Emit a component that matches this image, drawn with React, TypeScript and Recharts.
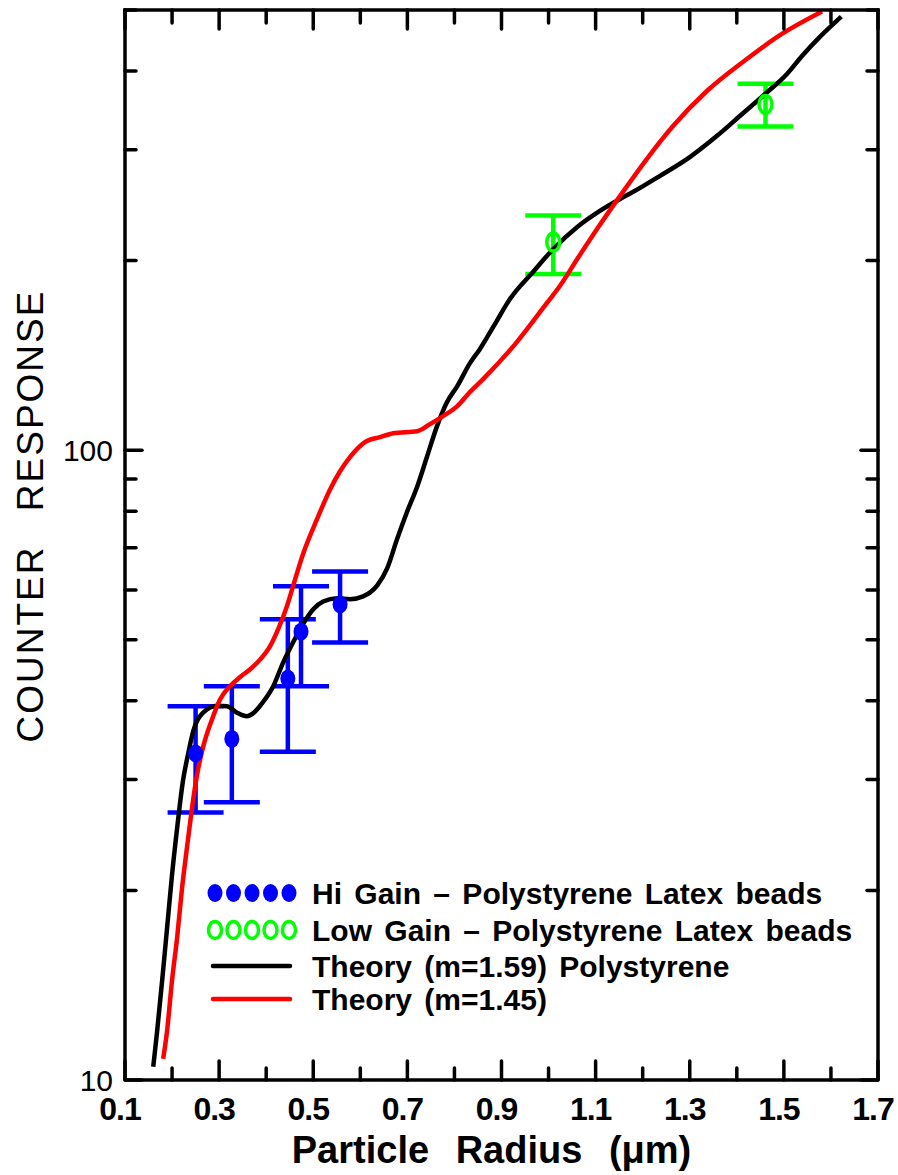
import React from "react";
import { ComposedChart, Line, Scatter, ErrorBar, XAxis, YAxis, Legend } from "recharts";

// axis ticks
const xTicks = [0.1, 0.2, 0.3, 0.4, 0.5, 0.6, 0.7, 0.8, 0.9, 1.0, 1.1, 1.2, 1.3, 1.4, 1.5, 1.6, 1.7];
const xTickLabels = ["0.1", "0.3", "0.5", "0.7", "0.9", "1.1", "1.3", "1.5", "1.7"];
const yTicks = [10, 20, 30, 40, 50, 60, 70, 80, 90, 100, 200, 300, 400, 500];
const yTickLabels = ["10", "100"];

// Hi gain measurements (filled blue)
const hiGainRadius = [0.25, 0.327, 0.446, 0.474, 0.557];
const hiGainResponse = [33.0, 34.8, 43.4, 51.5, 56.9];
const hiGainLow = [26.6, 27.6, 33.2, 42.2, 49.5];
const hiGainHigh = [39.2, 42.2, 53.9, 60.8, 64.2];

// Low gain measurements (open green)
const lowGainRadius = [1.01, 1.461];
const lowGainResponse = [214, 354];
const lowGainLow = [190.5, 326.6];
const lowGainHigh = [235.8, 381.9];

// Mie theory, m = 1.59
const theory159Radius = [
  0.16, 0.168, 0.179, 0.189, 0.2, 0.211, 0.223, 0.234, 0.245, 0.266, 0.296, 0.317, 0.338, 0.359,
  0.372, 0.393, 0.415, 0.436, 0.457, 0.478, 0.5, 0.521, 0.551, 0.578, 0.606, 0.636, 0.657, 0.678,
  0.699, 0.721, 0.742, 0.763, 0.784, 0.806, 0.833, 0.854, 0.886, 0.918, 0.967, 1.01, 1.061, 1.109,
  1.152, 1.18, 1.237, 1.301, 1.358, 1.407, 1.456, 1.507, 1.539, 1.577, 1.622,
];
const theory159Response = [
  10.5, 11.9, 14.4, 17.3, 21.2, 25.2, 29.8, 32.9, 35.8, 38.3, 39.3, 39.2, 38.3, 37.8, 38.2, 39.8,
  42.2, 46.0, 49.5, 52.9, 55.9, 57.5, 58.2, 58.0, 58.6, 61.0, 64.9, 72.2, 79.7, 87.6, 97.8, 109.2,
  119.2, 126.4, 137.5, 144.7, 158.6, 173.8, 191.9, 208.7, 226.2, 239.9, 250.6, 257.2, 272.7, 292.3,
  315.6, 339.6, 365.5, 396.1, 423.0, 453.6, 488.1,
];

// Mie theory, m = 1.45
const theory145Radius = [
  0.181, 0.189, 0.2, 0.211, 0.221, 0.232, 0.242, 0.253, 0.266, 0.285, 0.302, 0.323, 0.344, 0.366,
  0.387, 0.408, 0.425, 0.444, 0.457, 0.478, 0.508, 0.536, 0.557, 0.578, 0.61, 0.642, 0.67, 0.721,
  0.748, 0.776, 0.806, 0.833, 0.861, 0.929, 0.997, 1.024, 1.061, 1.103, 1.152, 1.209, 1.265, 1.337,
  1.422, 1.49, 1.581,
];
const theory145Response = [
  10.8, 11.9, 14.4, 16.9, 20.1, 23.5, 26.9, 30.5, 33.8, 37.4, 40.2, 42.2, 43.6, 44.9, 46.5, 48.8,
  51.9, 56.5, 60.8, 68.3, 77.7, 86.7, 92.6, 97.5, 103.0, 104.9, 106.4, 107.2, 110.0, 113.3, 117.5,
  123.7, 129.7, 147.4, 171.5, 182.3, 201.2, 224.5, 253.4, 290.2, 327.4, 372.2, 418.4, 455.2, 497.1,
];

const curve = (xs: number[], ys: number[]) => xs.map((x, i) => ({ x, y: ys[i] }));
const points = (xs: number[], ys: number[], lo: number[], hi: number[]) =>
  xs.map((x, i) => ({ x, y: ys[i], err: [ys[i] - lo[i], hi[i] - ys[i]] }));

const theory159 = curve(theory159Radius, theory159Response);
const theory145 = curve(theory145Radius, theory145Response);
const hiGain = points(hiGainRadius, hiGainResponse, hiGainLow, hiGainHigh);
const lowGain = points(lowGainRadius, lowGainResponse, lowGainLow, lowGainHigh);

const BLUE = "#0000ff";
const GREEN = "#00ff00";
const RED = "#ff0000";
const FONT = "'Liberation Sans', Arial, sans-serif";
const FRAME = 3.5;

// layout
const CHART_W = 898;
const CHART_H = 1175;
const MARGIN = { top: 10, right: 19, bottom: 0, left: 0 };
const X_AXIS_H = 95;
const Y_AXIS_W = 125;
const RIGHT_AXIS_W = 1;
const PLOT_LEFT = MARGIN.left + Y_AXIS_W;
const PLOT_W = CHART_W - MARGIN.left - MARGIN.right - Y_AXIS_W - RIGHT_AXIS_W;
const X_DOMAIN: [number, number] = [0.1, 1.7];

const isMajorX = (v: number) => xTickLabels.includes(v.toFixed(1));
const yLabel = (v: number) => yTickLabels.find((l) => Number(l) === v);

function BottomTick(props: any) {
  const { x, y, payload } = props;
  const major = isMajorX(payload.value);
  return (
    <g>
      <line x1={x} x2={x} y1={y} y2={y - (major ? 19 : 12)} stroke="#000" strokeWidth={FRAME} strokeLinecap="round" />
      {major && (
        <text x={x - 5} y={y + 40} textAnchor="middle" fontSize={32} fontWeight="bold" letterSpacing={-1} fontFamily={FONT} fill="#000">
          {payload.value.toFixed(1)}
        </text>
      )}
    </g>
  );
}

function LeftTick(props: any) {
  const { x, y, payload } = props;
  const label = yLabel(payload.value);
  return (
    <g>
      <line x1={x} x2={x + (label ? 17 : 11)} y1={y} y2={y} stroke="#000" strokeWidth={FRAME} strokeLinecap="round" />
      {label && (
        <text x={x - 12} y={y + 11} textAnchor="end" fontSize={30} fontFamily={FONT} fill="#000">
          {label}
        </text>
      )}
    </g>
  );
}

function RightTick(props: any) {
  const { x, y, payload } = props;
  const major = !!yLabel(payload.value);
  return <line x1={x} x2={x - (major ? 17 : 11)} y1={y} y2={y} stroke="#000" strokeWidth={FRAME} strokeLinecap="round" />;
}

function XTitle(props: any) {
  const vb = props.viewBox || { x: 125, y: 1080, width: 753, height: 95 };
  return (
    <text
      x={vb.x + vb.width / 2 - 10}
      y={vb.y + 83}
      textAnchor="middle"
      fontSize={38}
      fontWeight="bold"
      fontFamily={FONT}
      style={{ wordSpacing: 16 }}
      fill="#000"
    >
      Particle Radius (μm)
    </text>
  );
}

function YTitle(props: any) {
  const vb = props.viewBox || { x: 0, y: 10, width: 125, height: 1070 };
  const cx = vb.x + 30;
  const cy = vb.y + vb.height / 2 - 29;
  return (
    <text
      x={cx}
      y={cy}
      transform={`rotate(-90 ${cx} ${cy})`}
      textAnchor="middle"
      dominantBaseline="central"
      fontSize={37}
      letterSpacing={2}
      fontFamily={FONT}
      style={{ wordSpacing: 22 }}
      fill="#000"
    >
      COUNTER RESPONSE
    </text>
  );
}

// top edge of the box with its downward ticks
function TopFrame() {
  const px = (v: number) => PLOT_LEFT + ((v - X_DOMAIN[0]) / (X_DOMAIN[1] - X_DOMAIN[0])) * PLOT_W;
  const top = MARGIN.top;
  return (
    <svg
      width={CHART_W}
      height={40}
      style={{ position: "absolute", left: 0, top: 0, pointerEvents: "none", zIndex: 5 }}
    >
      <line x1={PLOT_LEFT} x2={PLOT_LEFT + PLOT_W} y1={top} y2={top} stroke="#000" strokeWidth={FRAME} strokeLinecap="square" />
      {xTicks.map((v) => (
        <line
          key={v}
          x1={px(v)}
          x2={px(v)}
          y1={top}
          y2={top + (isMajorX(v) ? 19 : 13)}
          stroke="#000"
          strokeWidth={FRAME}
          strokeLinecap="round"
        />
      ))}
    </svg>
  );
}

const FilledDot = (props: any) => <ellipse cx={props.cx} cy={props.cy} rx={7.5} ry={9} fill={BLUE} />;
const OpenDot = (props: any) => (
  <ellipse cx={props.cx} cy={props.cy} rx={6.5} ry={9} fill="none" stroke={GREEN} strokeWidth={3.5} />
);

const legendRows = [
  "Hi Gain – Polystyrene Latex beads",
  "Low Gain – Polystyrene Latex beads",
  "Theory (m=1.59) Polystyrene",
  "Theory (m=1.45)",
];

function LegendBox() {
  const rowY = [23, 60, 96, 129];
  const dotX = [15, 33.5, 52, 70.5, 89];
  return (
    <svg width={690} height={150} style={{ display: "block", overflow: "visible" }}>
      {dotX.map((x) => (
        <ellipse key={`b${x}`} cx={x} cy={rowY[0]} rx={7.5} ry={9} fill={BLUE} />
      ))}
      {dotX.map((x) => (
        <ellipse key={`g${x}`} cx={x} cy={rowY[1]} rx={6.5} ry={8.5} fill="none" stroke={GREEN} strokeWidth={3.5} />
      ))}
      <line x1={13} x2={90} y1={rowY[2]} y2={rowY[2]} stroke="#000" strokeWidth={4.5} strokeLinecap="round" />
      <line x1={13} x2={90} y1={rowY[3]} y2={rowY[3]} stroke={RED} strokeWidth={4.5} strokeLinecap="round" />
      {legendRows.map((t, i) => (
        <text
          key={t}
          x={112}
          y={rowY[i] + 11}
          fontSize={30}
          fontWeight="bold"
          fontFamily={FONT}
          style={{ wordSpacing: 4 }}
          fill="#000"
        >
          {t}
        </text>
      ))}
    </svg>
  );
}

export default function App() {
  return (
    <div style={{ position: "absolute", left: 0, top: 0, width: CHART_W, height: CHART_H, background: "#fff" }}>
      <ComposedChart width={CHART_W} height={CHART_H} margin={MARGIN}>
        <XAxis
          type="number"
          dataKey="x"
          domain={X_DOMAIN}
          ticks={xTicks}
          interval={0}
          allowDataOverflow
          height={X_AXIS_H}
          tickSize={0}
          tickMargin={0}
          tickLine={false}
          tick={<BottomTick />}
          axisLine={{ stroke: "#000", strokeWidth: FRAME }}
          label={<XTitle />}
        />
        <YAxis
          type="number"
          scale="log"
          domain={[10, 500]}
          ticks={yTicks}
          interval={0}
          allowDataOverflow
          width={Y_AXIS_W}
          tickSize={0}
          tickMargin={0}
          tickLine={false}
          tick={<LeftTick />}
          axisLine={{ stroke: "#000", strokeWidth: FRAME }}
          label={<YTitle />}
        />
        <YAxis
          yAxisId="right"
          orientation="right"
          type="number"
          scale="log"
          domain={[10, 500]}
          ticks={yTicks}
          interval={0}
          allowDataOverflow
          width={RIGHT_AXIS_W}
          tickSize={0}
          tickMargin={0}
          tickLine={false}
          tick={<RightTick />}
          axisLine={{ stroke: "#000", strokeWidth: FRAME }}
        />
        <Scatter data={hiGain} dataKey="y" shape={<FilledDot />} isAnimationActive={false}>
          <ErrorBar dataKey="err" direction="y" width={28} stroke={BLUE} strokeWidth={4.5} isAnimationActive={false} />
        </Scatter>
        <Scatter data={lowGain} dataKey="y" shape={<OpenDot />} isAnimationActive={false}>
          <ErrorBar dataKey="err" direction="y" width={28} stroke={GREEN} strokeWidth={4.5} isAnimationActive={false} />
        </Scatter>
        <Line
          data={theory159}
          dataKey="y"
          type="monotone"
          stroke="#000"
          strokeWidth={4.5}
          dot={false}
          activeDot={false}
          isAnimationActive={false}
        />
        <Line
          data={theory145}
          dataKey="y"
          type="monotone"
          stroke={RED}
          strokeWidth={4.5}
          dot={false}
          activeDot={false}
          isAnimationActive={false}
        />
        <Legend
          layout="vertical"
          align="center"
          verticalAlign="middle"
          content={<LegendBox />}
          wrapperStyle={{ left: 200, top: 870, width: 690, height: 150 }}
        />
      </ComposedChart>
      <TopFrame />
    </div>
  );
}
